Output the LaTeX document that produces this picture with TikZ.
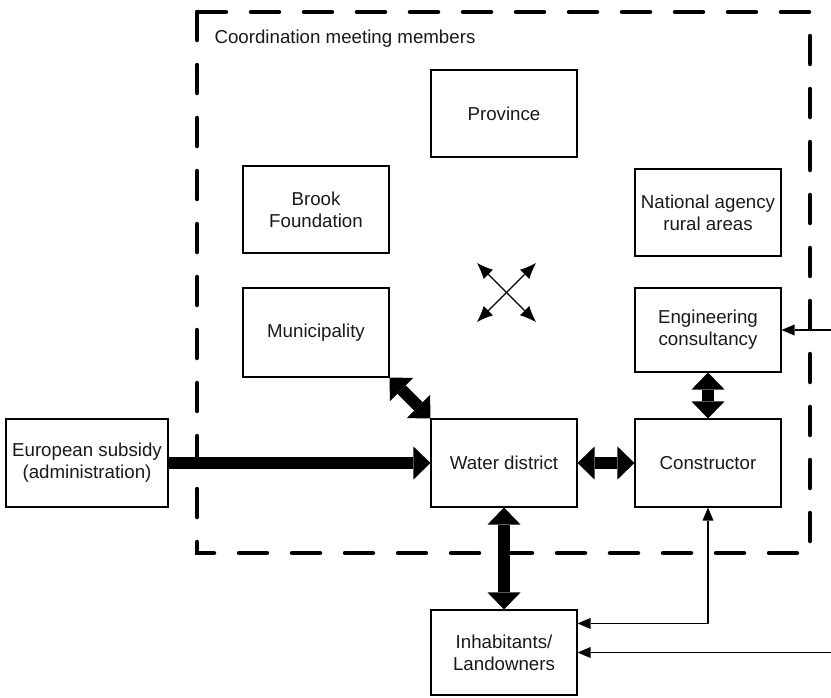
\documentclass[tikz,border=0pt]{standalone}
\usepackage{fontspec}
\setmainfont{Liberation Sans}
\usetikzlibrary{arrows.meta}
\begin{document}
\begin{tikzpicture}[x=1pt,y=-1pt,
  txt/.style={font=\fontsize{18.7}{21.7}\selectfont, text=black!90},
  box/.style={txt, draw, line width=1.1pt, minimum width=146pt, minimum height=87pt,
    inner sep=0pt, align=center},
  groupframe/.style={draw, line width=4.5pt, line cap=round, dash pattern=on 28pt off 25pt},
  bigtip/.tip={Triangle[width=33pt,length=17pt,line width=0pt]},
  smalltip/.tip={Triangle[width=11pt,length=13pt,line width=0pt]},
  crosstip/.tip={Latex[width=13pt,length=16pt,line width=0pt]},
  thickarrow/.style={line width=12pt, bigtip-bigtip},
  thinarrow/.style={line width=1.2pt, -smalltip},
  crossarrow/.style={line width=1.4pt, crosstip-crosstip}
]
\useasboundingbox (0,0) rectangle (831,697);

% dashed frame around the coordination meeting
\draw[groupframe] (197,12) rectangle (810,553);
\node[txt, anchor=base west] (title) at (211,43) {Coordination meeting members};

% organisations
\node[box] (prov) at (504,113.5) {Province};
\node[box] (brook) at (316,209.5) {Brook\\Foundation};
\node[box] (nat) at (708,212.5) {National agency\\rural areas};
\node[box, minimum height=89pt] (mun) at (316,332.5) {Municipality};
\node[box, minimum height=84pt] (eng) at (708,330) {Engineering\\consultancy};
\node[box, minimum width=162pt, minimum height=88pt] (eu) at (87,463) {European subsidy\\(administration)};
\node[box, minimum height=88pt] (wd) at (504,463) {Water district};
\node[box, minimum height=88pt] (con) at (708,463) {Constructor};
\node[box, minimum height=85pt] (inh) at (504,652.5) {Inhabitants/\\Landowners};

% mutual interaction among all members
\coordinate (xa1) at (477,263);
\coordinate (xa2) at (536,322);
\coordinate (xb1) at (536,263);
\coordinate (xb2) at (477,322);
\draw[crossarrow] (xa1) -- (xa2);
\draw[crossarrow] (xb1) -- (xb2);

% strong links
\draw[line width=12pt, -bigtip] (eu.east) -- (wd.west);
\draw[thickarrow] (mun.south east) -- (wd.north west);
\draw[thickarrow] (wd.east) -- (con.west);
\draw[thickarrow] (eng.south) -- (con.north);
\draw[thickarrow] (wd.south) -- (inh.north);

% weak links
\coordinate (inEng) at (831,330);
\coordinate (inInh) at (831,652.5);
\draw[thinarrow] (inEng) -- (eng.east);
\draw[thinarrow] (inInh) -- (inh.east);
\draw[line width=1.2pt, smalltip-smalltip]
  (con.south) |- ([yshift=-14pt]inh.north east);
\end{tikzpicture}
\end{document}
